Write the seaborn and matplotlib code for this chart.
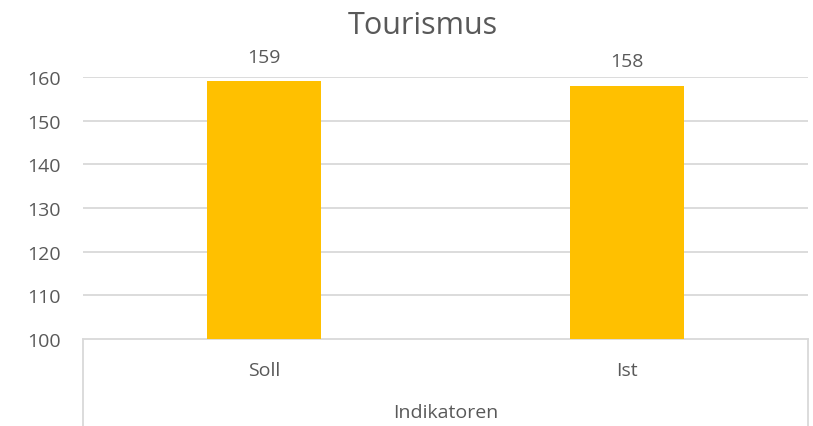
import matplotlib
matplotlib.use("Agg")
import matplotlib.pyplot as plt
import seaborn as sns
import pandas as pd

# chart data
categories = ["Soll", "Ist"]
values = [159, 158]
group_label = "Indikatoren"
title = "Tourismus"
y_ticks = [100, 110, 120, 130, 140, 150, 160]

sns.set_theme(style="white")
plt.rcParams["font.family"] = ["Open Sans", "DejaVu Sans"]

text_col = "#595959"
grid_col = "#D9D9D9"

df = pd.DataFrame({"cat": categories, "val": values})

fig = plt.figure(figsize=(8.13, 4.27), dpi=100)
ax = fig.add_axes([83 / 813, 87 / 427, 725 / 813, 262 / 427])

sns.barplot(data=df, x="cat", y="val", color="#FFC000", width=0.315,
            saturation=1, ax=ax, zorder=3, linewidth=0)

ax.set_ylim(100, 160)
ax.set_yticks(y_ticks)
ax.set_xlim(-0.5, 1.5)

# gridlines like excel
for y in y_ticks[1:]:
    ax.axhline(y, color=grid_col, lw=1.3, zorder=1)

for s in ["top", "right", "left"]:
    ax.spines[s].set_visible(False)
ax.spines["bottom"].set_color(grid_col)
ax.spines["bottom"].set_linewidth(1.3)

# category box borders below the axis
for xv in [0, 1]:
    ax.plot([xv, xv], [0, -0.34], transform=ax.transAxes, color=grid_col,
            lw=1.3, clip_on=False)

ax.tick_params(axis="y", length=0, pad=16, labelsize=14, labelcolor=text_col)
ax.tick_params(axis="x", length=0, pad=16, labelsize=14, labelcolor=text_col)

ax.set_xlabel(group_label, fontsize=14, color=text_col, labelpad=17)
ax.set_ylabel("")

for c in ax.containers:
    ax.bar_label(c, labels=[str(v) for v in values], padding=11,
                 fontsize=14, color=text_col, clip_on=False)

fig.text(423 / 813, 1 - 26 / 427, title, ha="center", va="center",
         fontsize=22, color=text_col)

fig.savefig("out.png", dpi=100)
